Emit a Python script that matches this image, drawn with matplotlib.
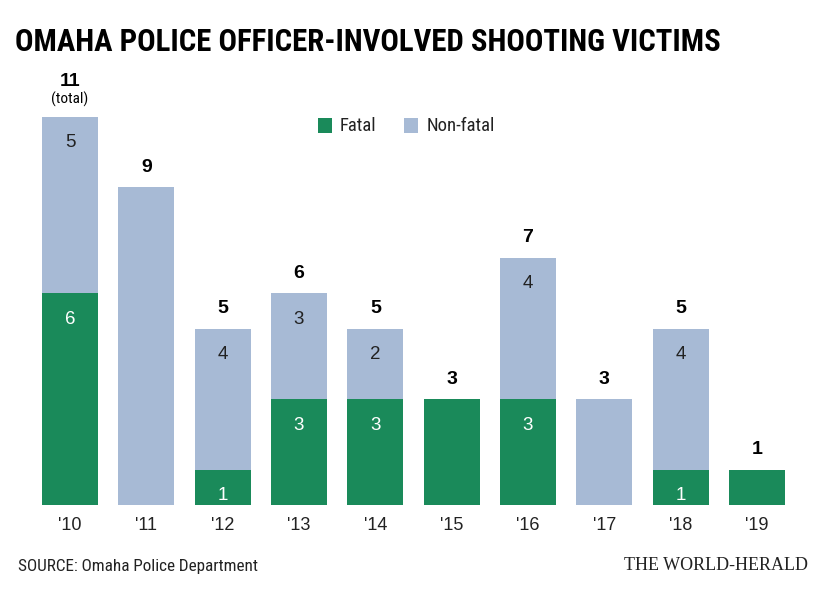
import matplotlib
matplotlib.use("Agg")
import matplotlib.pyplot as plt
from matplotlib import font_manager
import numpy as np

years = ["'10", "'11", "'12", "'13", "'14", "'15", "'16", "'17", "'18", "'19"]
fatal = [6, 0, 1, 3, 3, 3, 3, 0, 1, 1]
nonfatal = [5, 9, 4, 3, 2, 0, 4, 3, 4, 0]

GREEN = "#1a8a5a"
BLUE = "#a7bad5"

# pick a condensed family if one exists
names = {f.name for f in font_manager.fontManager.ttflist}
cond_family = None
cond_stretch = "normal"
for cand in ["Liberation Sans Narrow", "Roboto Condensed", "Open Sans Condensed", "Noto Sans Condensed"]:
    if cand in names:
        cond_family = cand
        break
if cond_family is None:
    if any(f.name == "DejaVu Sans" and f.stretch == "condensed" for f in font_manager.fontManager.ttflist):
        cond_family = "DejaVu Sans"
        cond_stretch = "condensed"
    else:
        cond_family = "Liberation Sans"

fig = plt.figure(figsize=(8.33, 6.0), dpi=100)
fig.patch.set_facecolor("white")

unit = 76.33
xl = (-0.6, 9.6)
left_px = 70 - 0.6 * unit
width_px = (xl[1] - xl[0]) * unit
yl = (0, 12)
ppu = 35.3
ax = fig.add_axes([left_px / 833, (600 - 505) / 600, width_px / 833, (yl[1] * ppu) / 600])
ax.set_xlim(*xl)
ax.set_ylim(*yl)
ax.axis("off")

x = np.arange(len(years))
w = 0.733
ax.bar(x, fatal, width=w, color=GREEN, linewidth=0)
ax.bar(x, nonfatal, width=w, bottom=fatal, color=BLUE, linewidth=0)

seg_fs = 13.5
for i in range(len(years)):
    f, n = fatal[i], nonfatal[i]
    tot = f + n
    show_seg = f > 0 and n > 0
    if show_seg:
        ax.annotate(str(f), (x[i], f), xytext=(0, -26), textcoords="offset pixels",
                    ha="center", va="center", color="white", fontsize=seg_fs,
                    family="Liberation Sans")
        ax.annotate(str(n), (x[i], tot), xytext=(0, -26), textcoords="offset pixels",
                    ha="center", va="center", color="#222222", fontsize=seg_fs,
                    family="Liberation Sans")
    if i == 0:
        ax.annotate(str(tot), (x[i], tot), xytext=(0, 35), textcoords="offset pixels",
                    ha="center", va="center", color="black", fontsize=14,
                    fontweight="bold", family="Liberation Sans")
        ax.annotate("(total)", (x[i], tot), xytext=(0, 17), textcoords="offset pixels",
                    ha="center", va="center", color="black", fontsize=11,
                    family=cond_family, stretch=cond_stretch)
    else:
        ax.annotate(str(tot), (x[i], tot), xytext=(0, 20), textcoords="offset pixels",
                    ha="center", va="center", color="black", fontsize=14,
                    fontweight="bold", family="Liberation Sans")
    ax.annotate(years[i], (x[i], 0), xytext=(0, -21), textcoords="offset pixels",
                ha="center", va="center", color="#222222", fontsize=13,
                family="Liberation Sans")

# legend
fig.patches.append(plt.Rectangle((318 / 833, 1 - 133 / 600), 14 / 833, 15 / 600,
                                 transform=fig.transFigure, color=GREEN, linewidth=0))
fig.text(340 / 833, 1 - 126 / 600, "Fatal", ha="left", va="center", fontsize=13.5,
         family=cond_family, stretch=cond_stretch, color="#222222")
fig.patches.append(plt.Rectangle((404 / 833, 1 - 133 / 600), 14 / 833, 15 / 600,
                                 transform=fig.transFigure, color=BLUE, linewidth=0))
fig.text(427 / 833, 1 - 126 / 600, "Non-fatal", ha="left", va="center", fontsize=13.5,
         family=cond_family, stretch=cond_stretch, color="#222222")

# title, scaled to fit the reference width
title = fig.text(15 / 833, 1 - 42 / 600, "OMAHA POLICE OFFICER-INVOLVED SHOOTING VICTIMS",
                 ha="left", va="center", fontsize=26, fontweight="bold",
                 family=cond_family, stretch=cond_stretch, color="black")
fig.canvas.draw()
bb = title.get_window_extent()
target = 707
scale = target / bb.width
title.set_fontsize(min(26 * scale, 26))

src = fig.text(18 / 833, 1 - 566 / 600, "SOURCE: Omaha Police Department", ha="left",
               va="center", fontsize=11.5, family=cond_family, stretch=cond_stretch,
               color="#222222")
fig.canvas.draw()
bb = src.get_window_extent()
src.set_fontsize(min(11.5 * 240 / bb.width, 12.5))

wh = fig.text(808 / 833, 1 - 566 / 600, "THE WORLD-HERALD", ha="right", va="center",
              fontsize=13, family="Liberation Serif", color="#222222")

fig.savefig("out.png", dpi=100, facecolor="white")
